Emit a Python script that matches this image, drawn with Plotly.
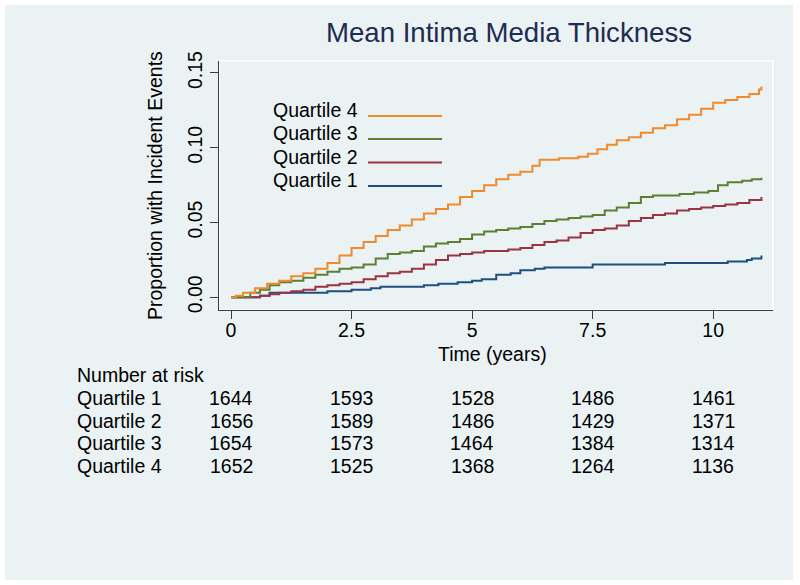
import plotly.graph_objects as go

# ── data ─────────────────────────────────────────────────────────────────────
q4_t = [0, 0.1, 0.25, 0.5, 0.75, 1.0, 1.25, 1.5, 1.75, 2.0, 2.25, 2.5, 2.75, 3.0,
        3.25, 3.5, 3.75, 4.0, 4.25, 4.5, 4.75, 5.0, 5.25, 5.5, 5.75, 6.0, 6.25,
        6.4, 6.8, 7.2, 7.4, 7.6, 7.8, 8.0, 8.25, 8.5, 8.75, 9.0, 9.25, 9.5, 9.75,
        10.0, 10.25, 10.5, 10.75, 10.95, 11.0]
q4_p = [0, 0.001, 0.003, 0.006, 0.009, 0.011, 0.014, 0.016, 0.019, 0.023, 0.028,
        0.033, 0.037, 0.041, 0.045, 0.048, 0.052, 0.056, 0.059, 0.062, 0.067,
        0.071, 0.075, 0.079, 0.082, 0.084, 0.088, 0.092, 0.093, 0.094, 0.096,
        0.099, 0.102, 0.105, 0.107, 0.110, 0.113, 0.115, 0.119, 0.122, 0.126,
        0.130, 0.132, 0.134, 0.136, 0.139, 0.141]

q3_t = [0, 0.2, 0.4, 0.6, 0.8, 1.0, 1.25, 1.5, 1.75, 2.0, 2.25, 2.5, 2.75, 3.0,
        3.25, 3.5, 3.75, 4.0, 4.25, 4.5, 4.75, 5.0, 5.25, 5.5, 5.75, 6.0, 6.25,
        6.5, 6.75, 7.0, 7.25, 7.5, 7.75, 8.0, 8.25, 8.5, 8.75, 9.0, 9.3, 9.6,
        9.9, 10.1, 10.3, 10.6, 10.8, 11.0]
q3_p = [0, 0.0, 0.003, 0.005, 0.008, 0.010, 0.011, 0.013, 0.015, 0.017, 0.019,
        0.020, 0.022, 0.026, 0.029, 0.030, 0.031, 0.034, 0.036, 0.037, 0.039,
        0.042, 0.044, 0.045, 0.046, 0.047, 0.049, 0.051, 0.052, 0.053, 0.054,
        0.055, 0.058, 0.060, 0.063, 0.067, 0.068, 0.068, 0.069, 0.070, 0.071,
        0.075, 0.077, 0.078, 0.079, 0.080]

q2_t = [0, 0.6, 0.8, 1.0, 1.25, 1.5, 1.75, 2.0, 2.25, 2.5, 2.75, 3.0, 3.25, 3.5,
        3.75, 4.0, 4.25, 4.5, 4.75, 5.0, 5.25, 5.5, 5.75, 6.0, 6.25, 6.5, 6.75,
        7.0, 7.25, 7.5, 7.75, 8.0, 8.25, 8.5, 8.75, 9.0, 9.25, 9.5, 9.75, 10.0,
        10.25, 10.5, 10.75, 11.0]
q2_p = [0, 0.001, 0.002, 0.003, 0.004, 0.005, 0.007, 0.008, 0.009, 0.010, 0.012,
        0.014, 0.016, 0.017, 0.019, 0.022, 0.025, 0.028, 0.029, 0.030, 0.031,
        0.031, 0.032, 0.033, 0.035, 0.037, 0.038, 0.040, 0.043, 0.045, 0.046,
        0.048, 0.051, 0.053, 0.055, 0.056, 0.058, 0.059, 0.060, 0.061, 0.062,
        0.063, 0.065, 0.067]

q1_t = [0, 0.6, 0.8, 1.5, 2.0, 2.5, 2.9, 3.1, 3.5, 4.0, 4.3, 4.7, 5.0, 5.2, 5.5,
        5.8, 6.0, 6.3, 6.5, 7.45, 7.5, 9.0, 10.2, 10.3, 10.7, 10.8, 11.0]
q1_p = [0, 0.001, 0.003, 0.003, 0.004, 0.005, 0.006, 0.007, 0.007, 0.008, 0.009,
        0.010, 0.011, 0.012, 0.015, 0.016, 0.018, 0.019, 0.020, 0.020, 0.022,
        0.023, 0.023, 0.024, 0.025, 0.026, 0.028]

groups = ["Quartile 1", "Quartile 2", "Quartile 3", "Quartile 4"]
risk_times = [0, 2.5, 5, 7.5, 10]
at_risk = {
    "Quartile 1": [1644, 1593, 1528, 1486, 1461],
    "Quartile 2": [1656, 1589, 1486, 1429, 1371],
    "Quartile 3": [1654, 1573, 1464, 1384, 1314],
    "Quartile 4": [1652, 1525, 1368, 1264, 1136],
}
x_ticks = [0, 2.5, 5, 7.5, 10]
x_tick_text = ["0", "2.5", "5", "7.5", "10"]
y_ticks = [0, 0.05, 0.10, 0.15]
y_tick_text = ["0.00", "0.05", "0.10", "0.15"]

# ── styling ──────────────────────────────────────────────────────────────────
W, H = 800, 585
L, R, T, B = 219, 773, 61, 310          # plot area in pixels
BG = "#EAF2F3"
AXIS = "#3c3c3c"
FONT = "Liberation Sans, Arial, Helvetica, sans-serif"
FS = 19.5
colors = {
    "Quartile 1": "#1f4f80",
    "Quartile 2": "#9a3344",
    "Quartile 3": "#5b7f33",
    "Quartile 4": "#ef8a2e",
}
series = {
    "Quartile 1": (q1_t, q1_p),
    "Quartile 2": (q2_t, q2_p),
    "Quartile 3": (q3_t, q3_p),
    "Quartile 4": (q4_t, q4_p),
}


def px_x(px):
    return (px - L) / (R - L)


def px_y(py):
    return 1 - (py - T) / (B - T)


fig = go.Figure()
for g in groups:
    t, p = series[g]
    fig.add_trace(go.Scatter(x=t, y=p, mode="lines", line_shape="hv",
                             line=dict(color=colors[g], width=2),
                             name=g, showlegend=False))

shapes = [
    # light graph region with white page margin around it
    dict(type="rect", xref="paper", yref="paper", layer="below",
         x0=px_x(5), x1=px_x(793), y0=px_y(580), y1=px_y(5),
         fillcolor=BG, line=dict(width=0)),
    # white plot-region outline
    dict(type="rect", xref="paper", yref="paper", layer="below",
         x0=0, x1=1, y0=0, y1=1, line=dict(color="white", width=1.5)),
]
annotations = []

# legend: label on the left, line key on the right (Stata style)
legend_rows = {"Quartile 4": 110, "Quartile 3": 133, "Quartile 2": 156.5, "Quartile 1": 180}
for g, yc in legend_rows.items():
    annotations.append(dict(xref="paper", yref="paper", x=px_x(360), y=px_y(yc),
                            xanchor="right", yanchor="middle", showarrow=False,
                            text=g, font=dict(size=FS, color="black")))
    shapes.append(dict(type="line", xref="paper", yref="paper", layer="above",
                       x0=px_x(368), x1=px_x(442), y0=px_y(yc + 6), y1=px_y(yc + 6),
                       line=dict(color=colors[g], width=2)))

# axis titles
annotations.append(dict(xref="paper", yref="paper", x=px_x(155), y=px_y(186),
                        xanchor="center", yanchor="middle", textangle=-90,
                        showarrow=False, text="Proportion with Incident Events",
                        font=dict(size=FS, color="black")))
annotations.append(dict(xref="paper", yref="paper", x=px_x(492), y=px_y(354),
                        xanchor="center", yanchor="middle", showarrow=False,
                        text="Time (years)", font=dict(size=FS, color="black")))

# number-at-risk table
annotations.append(dict(xref="paper", yref="paper", x=px_x(75), y=px_y(375),
                        xanchor="left", yanchor="middle", showarrow=False,
                        text="Number at risk", font=dict(size=FS, color="black")))
row_y = {"Quartile 1": 398, "Quartile 2": 421, "Quartile 3": 443, "Quartile 4": 466}
for g in groups:
    annotations.append(dict(xref="paper", yref="paper", x=px_x(75), y=px_y(row_y[g]),
                            xanchor="left", yanchor="middle", showarrow=False,
                            text=g, font=dict(size=FS, color="black")))
    for tx, n in zip(risk_times, at_risk[g]):
        annotations.append(dict(xref="x", yref="paper", x=tx, y=px_y(row_y[g]),
                                xanchor="center", yanchor="middle", showarrow=False,
                                text=str(n), font=dict(size=FS, color="black")))

fig.update_layout(
    width=W, height=H,
    margin=dict(l=L, r=W - R, t=T, b=H - B, pad=0),
    paper_bgcolor="white",
    plot_bgcolor="rgba(0,0,0,0)",
    font=dict(family=FONT, size=FS, color="black"),
    title=dict(text="Mean Intima Media Thickness", x=509 / W, y=1 - 32 / H,
               xanchor="center", yanchor="middle",
               font=dict(size=27.6, color="#1e2c52")),
    shapes=shapes,
    annotations=annotations,
    showlegend=False,
)
fig.update_xaxes(range=[-0.249, 11.24], showgrid=False, zeroline=False,
                 showline=True, linecolor=AXIS, linewidth=1,
                 ticks="outside", ticklen=8, tickcolor=AXIS,
                 tickvals=x_ticks, ticktext=x_tick_text, ticklabelstandoff=-5,
                 tickfont=dict(size=FS, color="black"))
fig.update_yaxes(range=[-0.0085, 0.158], showgrid=False, zeroline=False,
                 showline=True, linecolor=AXIS, linewidth=1,
                 ticks="outside", ticklen=8, tickcolor=AXIS,
                 tickvals=y_ticks, ticktext=y_tick_text, tickangle=-90,
                 tickfont=dict(size=FS, color="black"))

fig.write_html("out.html", config={"displayModeBar": False},
               post_script="document.body.style.margin='0px';")
